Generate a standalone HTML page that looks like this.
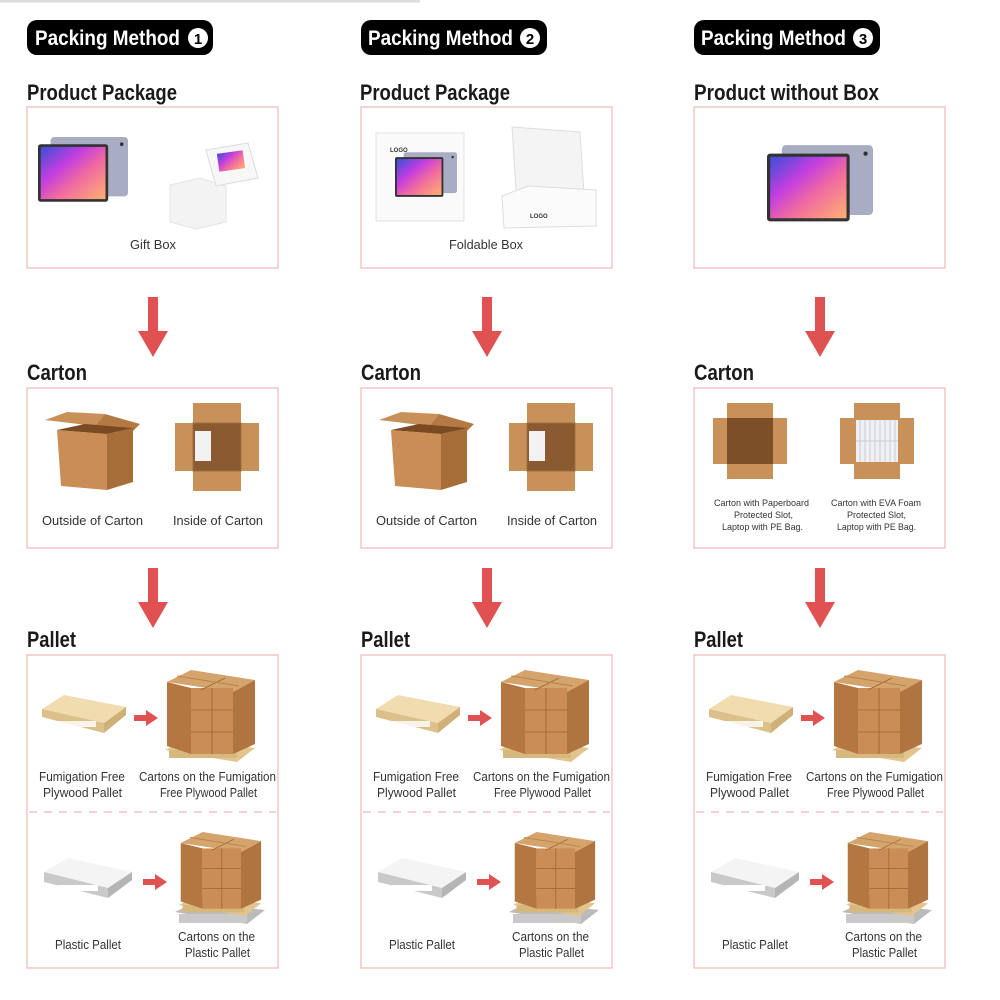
<!DOCTYPE html>
<html><head><meta charset="utf-8"><style>
html,body{margin:0;padding:0;background:#fff;width:1000px;height:1000px;overflow:hidden}
svg{display:block}
.h{font-family:"Liberation Sans",sans-serif;font-weight:bold;fill:#1a1a1a;font-size:22px}
.p{font-family:"Liberation Sans",sans-serif;font-weight:bold;fill:#fff;font-size:21px}
.l{font-family:"Liberation Sans",sans-serif;fill:#333;font-size:13px}
.s{font-family:"Liberation Sans",sans-serif;fill:#333;font-size:9.5px}
</style></head><body>
<svg width="1000" height="1000" viewBox="0 0 1000 1000" xmlns="http://www.w3.org/2000/svg">
<defs>
<linearGradient id="scr" x1="0" y1="0" x2="1" y2="1">
<stop offset="0" stop-color="#3a4fd8"/><stop offset="0.35" stop-color="#c43ee0"/><stop offset="0.6" stop-color="#f06aa0"/><stop offset="1" stop-color="#ffb070"/></linearGradient>
<symbol id="tab" viewBox="0 0 100 80" overflow="visible">
<rect x="14" y="0" width="86" height="66" rx="4" fill="#a9adc4"/>
<circle cx="93" cy="8" r="2" fill="#333"/>
<rect x="0" y="8" width="78" height="64" rx="3" fill="#333"/>
<rect x="3" y="11" width="72" height="58" fill="url(#scr)"/>
</symbol>
<symbol id="oc" viewBox="0 0 95 78" overflow="visible">
<polygon points="0,8 22,0 60,2 50,14" fill="#c8915a"/>
<polygon points="50,14 60,2 95,12 85,22" fill="#b57a44"/>
<polygon points="12,18 62,22 62,78 16,74" fill="#c98d55"/>
<polygon points="62,22 88,16 88,70 62,78" fill="#a86e3a"/>
<polygon points="12,18 62,22 88,16 40,12" fill="#7a4a22"/>
</symbol>
<symbol id="ic" viewBox="0 0 84 88" overflow="visible">
<rect x="18" y="0" width="48" height="88" fill="#c8915a"/>
<rect x="0" y="20" width="84" height="48" fill="#c8915a"/>
<rect x="18" y="20" width="48" height="48" fill="#8a5a30"/>
<rect x="20" y="28" width="16" height="30" fill="#f2f2f2"/>
<path d="M18 20H66V68H18Z" fill="none" stroke="#a06d3a"/>
</symbol>
<symbol id="tc" viewBox="0 0 74 76" overflow="visible">
<rect x="14" y="0" width="46" height="76" fill="#c8915a"/>
<rect x="0" y="15" width="74" height="46" fill="#c8915a"/>
<rect x="14" y="15" width="46" height="46" fill="#7d4f28"/>
</symbol>
<symbol id="ec" viewBox="0 0 74 76" overflow="visible">
<rect x="14" y="0" width="46" height="76" fill="#c8915a"/>
<rect x="0" y="15" width="74" height="46" fill="#c8915a"/>
<rect x="16" y="17" width="42" height="42" fill="#eef0f3"/>
<path d="M20 17V59M25 17V59M30 17V59M35 17V59M40 17V59M45 17V59M50 17V59M55 17V59M16 38H58" stroke="#c9ccd2" stroke-width="1"/>
</symbol>
<symbol id="wp" viewBox="0 0 84 40" overflow="visible">
<polygon points="0,14 22,0 84,12 62,28" fill="#f1dcb0"/>
<polygon points="0,14 62,28 62,38 0,22" fill="#dcc08a"/>
<polygon points="62,28 84,12 84,20 62,38" fill="#cfb078"/>
<rect x="14" y="26" width="40" height="6" fill="#fff" opacity=".8"/>
</symbol>
<symbol id="pp" viewBox="0 0 88 42" overflow="visible">
<polygon points="0,14 24,0 88,14 64,30" fill="#f4f4f4"/>
<polygon points="0,14 64,30 64,40 0,24" fill="#c9c9c9"/>
<polygon points="64,30 88,14 88,22 64,40" fill="#b5b5b5"/>
<rect x="14" y="27" width="40" height="6" fill="#fff"/>
</symbol>
<symbol id="st" viewBox="0 0 90 92" overflow="visible">
<polygon points="0,80 20,70 90,78 72,92" fill="#e2c48c"/>
<rect x="4" y="80" width="68" height="8" fill="#d6b77e"/>
<polygon points="2,12 26,0 90,10 68,22" fill="#d4a46c"/>
<polygon points="2,12 26,18 26,84 2,76" fill="#b4773f"/>
<rect x="26" y="18" width="42" height="66" fill="#c98d55"/>
<polygon points="68,22 90,10 90,74 68,84" fill="#b07440"/>
<path d="M47 18V84M26 40H68M26 62H68M36 20L60 8" stroke="#9a6434" stroke-width="0.8" fill="none"/>
<path d="M12 6L74 16" stroke="#b8834c" stroke-width="1"/>
</symbol>
<symbol id="sp" viewBox="0 0 90 94" overflow="visible">
<polygon points="0,80 20,70 90,78 72,92" fill="#bbb"/>
<rect x="4" y="82" width="68" height="9" fill="#c9c9c9"/>
<use href="#st" x="0" y="0" width="90" height="84"/>
</symbol>
<symbol id="dn" viewBox="0 0 30 60" overflow="visible">
<rect x="10" y="0" width="10" height="36" fill="#e05252"/>
<polygon points="0,34 30,34 15,60" fill="#e05252"/>
</symbol>
<symbol id="ra" viewBox="0 0 24 16" overflow="visible">
<rect x="0" y="5" width="14" height="6" fill="#e05252"/>
<polygon points="12,0 24,8 12,16" fill="#e05252"/>
</symbol>
<g id="col">
<rect x="27" y="20" width="186" height="35" rx="10" fill="#000"/>
<rect x="27" y="107" width="251" height="161" fill="none" stroke="#f1b8b8" stroke-width="1.2"/>
<use href="#dn" x="138" y="297" width="30" height="60"/>
<rect x="27" y="388" width="251" height="160" fill="none" stroke="#f1b8b8" stroke-width="1.2"/>
<use href="#dn" x="138" y="568" width="30" height="60"/>
<text class="h" x="27" y="647" textLength="49" lengthAdjust="spacingAndGlyphs">Pallet</text>
<text class="h" x="27" y="380" textLength="60" lengthAdjust="spacingAndGlyphs">Carton</text>
<rect x="27" y="655" width="251" height="313" fill="none" stroke="#f1b8b8" stroke-width="1.2"/>
<line x1="29" y1="812" x2="276" y2="812" stroke="#f2c0c8" stroke-width="1.5" stroke-dasharray="8,7"/>
<use href="#wp" x="42" y="695" width="84" height="40"/>
<use href="#ra" x="134" y="710" width="24" height="16"/>
<use href="#st" x="165" y="670" width="90" height="92"/>
<text class="l" x="39" y="781" textLength="86" lengthAdjust="spacingAndGlyphs">Fumigation Free</text>
<text class="l" x="43" y="797" textLength="79" lengthAdjust="spacingAndGlyphs">Plywood Pallet</text>
<text class="l" x="139" y="781" textLength="137" lengthAdjust="spacingAndGlyphs">Cartons on the Fumigation</text>
<text class="l" x="160" y="797" textLength="97" lengthAdjust="spacingAndGlyphs">Free Plywood Pallet</text>
<use href="#pp" x="44" y="858" width="88" height="42"/>
<use href="#ra" x="143" y="874" width="24" height="16"/>
<use href="#sp" x="175" y="832" width="90" height="94"/>
<text class="l" x="55" y="949" textLength="66" lengthAdjust="spacingAndGlyphs">Plastic Pallet</text>
<text class="l" x="178" y="941" textLength="77" lengthAdjust="spacingAndGlyphs">Cartons on the</text>
<text class="l" x="185" y="957" textLength="65" lengthAdjust="spacingAndGlyphs">Plastic Pallet</text>
</g>
</defs>
<line x1="0" y1="1" x2="420" y2="1" stroke="#ddd" stroke-width="3"/>
<use href="#col" x="0" y="0"/>
<use href="#col" x="334" y="0"/>
<use href="#col" x="667" y="0"/>
<g>
<text class="p" x="35" y="45" textLength="145" lengthAdjust="spacingAndGlyphs">Packing Method</text>
<circle cx="198" cy="38" r="10" fill="#fff"/><text x="198" y="44" text-anchor="middle" font-family="Liberation Sans" font-weight="bold" font-size="15" fill="#000">1</text>
<text class="p" x="368" y="45" textLength="145" lengthAdjust="spacingAndGlyphs">Packing Method</text>
<circle cx="530" cy="38" r="10" fill="#fff"/><text x="530" y="44" text-anchor="middle" font-family="Liberation Sans" font-weight="bold" font-size="15" fill="#000">2</text>
<text class="p" x="701" y="45" textLength="145" lengthAdjust="spacingAndGlyphs">Packing Method</text>
<circle cx="863" cy="38" r="10" fill="#fff"/><text x="863" y="44" text-anchor="middle" font-family="Liberation Sans" font-weight="bold" font-size="15" fill="#000">3</text>
</g>
<text class="h" x="27" y="100" textLength="150" lengthAdjust="spacingAndGlyphs">Product Package</text>
<text class="h" x="360" y="100" textLength="150" lengthAdjust="spacingAndGlyphs">Product Package</text>
<text class="h" x="694" y="100" textLength="185" lengthAdjust="spacingAndGlyphs">Product without Box</text>
<use href="#tab" x="38" y="137" width="90" height="72"/>
<polygon points="170,185 200,178 226,186 226,222 196,229 170,222" fill="#f3f3f3" stroke="#e4e4e4"/>
<polygon points="206,150 248,143 258,178 216,186" fill="#f7f7f7" stroke="#ddd"/>
<rect x="218" y="152" width="26" height="18" fill="url(#scr)" transform="rotate(-8 231 161)"/>
<text class="l" x="130" y="249" textLength="46" lengthAdjust="spacingAndGlyphs">Gift Box</text>
<rect x="376" y="133" width="88" height="88" fill="#fafafa" stroke="#e2e2e2"/>
<text x="390" y="152" font-family="Liberation Sans" font-size="6" font-weight="bold" fill="#333">LOGO</text>
<use href="#tab" x="395" y="152" width="62" height="50"/>
<polygon points="512,127 580,132 584,194 516,190" fill="#f4f4f4" stroke="#ddd"/>
<polygon points="502,196 528,186 596,190 596,226 504,228" fill="#fbfbfb" stroke="#ddd"/>
<text x="530" y="218" font-family="Liberation Sans" font-size="6" font-weight="bold" fill="#333">LOGO</text>
<text class="l" x="449" y="249" textLength="74" lengthAdjust="spacingAndGlyphs">Foldable Box</text>
<use href="#tab" x="767" y="145" width="106" height="85"/>
<use href="#oc" x="45" y="412" width="95" height="78"/>
<use href="#ic" x="175" y="403" width="84" height="88"/>
<text class="l" x="42" y="525" textLength="101" lengthAdjust="spacingAndGlyphs">Outside of Carton</text>
<text class="l" x="173" y="525" textLength="90" lengthAdjust="spacingAndGlyphs">Inside of Carton</text>
<use href="#oc" x="379" y="412" width="95" height="78"/>
<use href="#ic" x="509" y="403" width="84" height="88"/>
<text class="l" x="376" y="525" textLength="101" lengthAdjust="spacingAndGlyphs">Outside of Carton</text>
<text class="l" x="507" y="525" textLength="90" lengthAdjust="spacingAndGlyphs">Inside of Carton</text>
<use href="#tc" x="713" y="403" width="74" height="76"/>
<use href="#ec" x="840" y="403" width="74" height="76"/>
<text class="s" x="714" y="506" textLength="95" lengthAdjust="spacingAndGlyphs">Carton with Paperboard</text>
<text class="s" x="734" y="518" textLength="59" lengthAdjust="spacingAndGlyphs">Protected Slot,</text>
<text class="s" x="722" y="530" textLength="81" lengthAdjust="spacingAndGlyphs">Laptop with PE Bag.</text>
<text class="s" x="831" y="506" textLength="90" lengthAdjust="spacingAndGlyphs">Carton with EVA Foam</text>
<text class="s" x="847" y="518" textLength="59" lengthAdjust="spacingAndGlyphs">Protected Slot,</text>
<text class="s" x="837" y="530" textLength="79" lengthAdjust="spacingAndGlyphs">Laptop with PE Bag.</text>
</svg>
</body></html>
